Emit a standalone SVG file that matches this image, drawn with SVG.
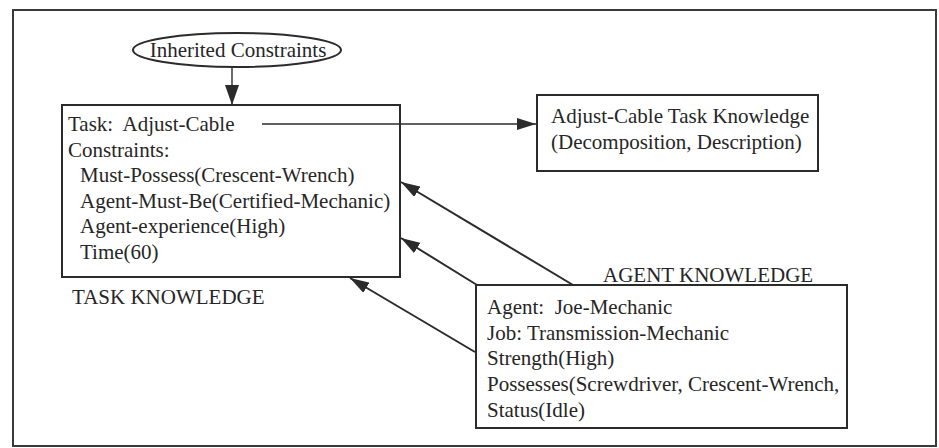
<svg xmlns="http://www.w3.org/2000/svg" width="939" height="448" viewBox="0 0 939 448">
  <style>
    text { font-family: "Liberation Serif", "Times New Roman", serif; font-size: 21px; fill: #262626; }
    .box { fill: none; stroke: #2b2b2b; stroke-width: 2; }
    .conn { fill: none; stroke: #2b2b2b; stroke-width: 2; }
    .thin { stroke-width: 1.4; }
  </style>
  <defs>
    <marker id="arrow" viewBox="0 0 19 12" refX="19" refY="6" markerWidth="19" markerHeight="12" markerUnits="userSpaceOnUse" orient="auto">
      <path d="M0,0 L19,6 L0,12 z" fill="#2b2b2b"/>
    </marker>
    <marker id="arrowBig" viewBox="0 0 20 14" refX="20" refY="7" markerWidth="20" markerHeight="14" markerUnits="userSpaceOnUse" orient="auto">
      <path d="M0,0 L20,7 L0,14 z" fill="#2b2b2b"/>
    </marker>
  </defs>
  <rect x="0" y="0" width="939" height="448" fill="#ffffff"/>
  <g id="frame">
    <rect x="13" y="10" width="923" height="436" fill="none" stroke="#3a3a3a" stroke-width="2"/>
  </g>

  <g id="connectors">
    <line class="conn thin" x1="232" y1="67" x2="232" y2="105" marker-end="url(#arrowBig)"/>
    <line class="conn thin" x1="262" y1="124" x2="536" y2="124" marker-end="url(#arrow)"/>
    <line class="conn" x1="573" y1="285" x2="401" y2="182" marker-end="url(#arrow)"/>
    <line class="conn" x1="477" y1="285" x2="401" y2="238" marker-end="url(#arrow)"/>
    <line class="conn" x1="475" y1="352" x2="350" y2="278" marker-end="url(#arrow)"/>
  </g>

  <g id="inherited-constraints">
    <ellipse class="box" cx="237" cy="50" rx="104" ry="17"/>
    <text x="238" y="57" text-anchor="middle">Inherited Constraints</text>
  </g>

  <g id="task-knowledge">
    <rect class="box" x="62" y="105" width="338" height="172"/>
    <text x="68" y="131" xml:space="preserve">Task:  Adjust-Cable</text>
    <text x="68" y="157">Constraints:</text>
    <text x="80" y="182">Must-Possess(Crescent-Wrench)</text>
    <text x="80" y="208">Agent-Must-Be(Certified-Mechanic)</text>
    <text x="80" y="233">Agent-experience(High)</text>
    <text x="80" y="259">Time(60)</text>
    <text x="72" y="304">TASK KNOWLEDGE</text>
  </g>

  <g id="adjust-cable-knowledge">
    <rect class="box" x="537" y="95" width="281" height="76"/>
    <text x="551" y="123">Adjust-Cable Task Knowledge</text>
    <text x="551" y="149">(Decomposition, Description)</text>
  </g>

  <g id="agent-knowledge">
    <text x="603" y="282">AGENT KNOWLEDGE</text>
    <rect class="box" x="476" y="285" width="371" height="143"/>
    <text x="487" y="314" xml:space="preserve">Agent:  Joe-Mechanic</text>
    <text x="487" y="340">Job: Transmission-Mechanic</text>
    <text x="487" y="365">Strength(High)</text>
    <text x="487" y="391">Possesses(Screwdriver, Crescent-Wrench,</text>
    <text x="487" y="417">Status(Idle)</text>
  </g>
</svg>
